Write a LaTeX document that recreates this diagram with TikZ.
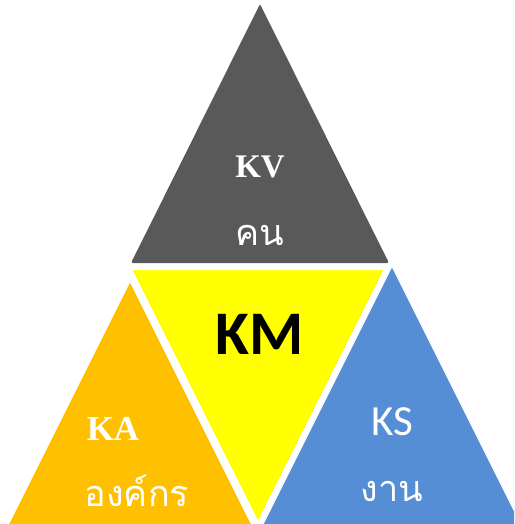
\documentclass[tikz,border=0pt]{standalone}
\usepackage{fontspec}
\setmainfont{Liberation Serif}
\newfontfamily\calib{Carlito}
\newfontfamily\thaifont[Script=Thai]{Loma}
\definecolor{kgray}{HTML}{595959}
\definecolor{kyellow}{HTML}{FFFF00}
\definecolor{korange}{HTML}{FFC000}
\definecolor{kblue}{HTML}{558ED5}
\begin{document}
\begin{tikzpicture}[x=1pt,y=-1pt,
  tri/.style={draw=white,line width=3pt,line join=round,rounded corners=1.5pt},
  lab/.style={text=white,inner sep=0pt,anchor=center}]
\useasboundingbox (0,0) rectangle (514,524);
\begin{scope}
\clip (0,0) rectangle (514,524);
\fill[kgray,rounded corners=2pt] (260,4) -- (389,263) -- (131,263) -- cycle;
\filldraw[tri,fill=kyellow] (130,268.5) -- (386,268.5) -- (258,524) -- cycle;
\filldraw[tri,fill=korange] (130,279) -- (254,527) -- (6,527) -- cycle;
\filldraw[tri,fill=kblue] (392,264) -- (525,530) -- (259,530) -- cycle;
\end{scope}
\node[lab,font=\fontsize{33}{33}\selectfont\bfseries] (kv) at (260,167) {KV};
\node[lab,font=\fontsize{36}{36}\selectfont\thaifont] (kn) at (260,235) {คน};
\node[inner sep=0pt,font=\fontsize{62}{62}\selectfont\calib\bfseries] (km) at (260,334) {KM};
\node[lab,font=\fontsize{35}{35}\selectfont\bfseries] (ka) at (113,429) {KA};
\node[lab,font=\fontsize{36}{36}\selectfont\thaifont] (ko) at (137,491) {องค์กร};
\node[lab,font=\fontsize{43}{43}\selectfont\calib] (ks) at (392,422) {KS};
\node[lab,font=\fontsize{36}{36}\selectfont\thaifont] (ng) at (392,491) {งาน};
\end{tikzpicture}
\end{document}
